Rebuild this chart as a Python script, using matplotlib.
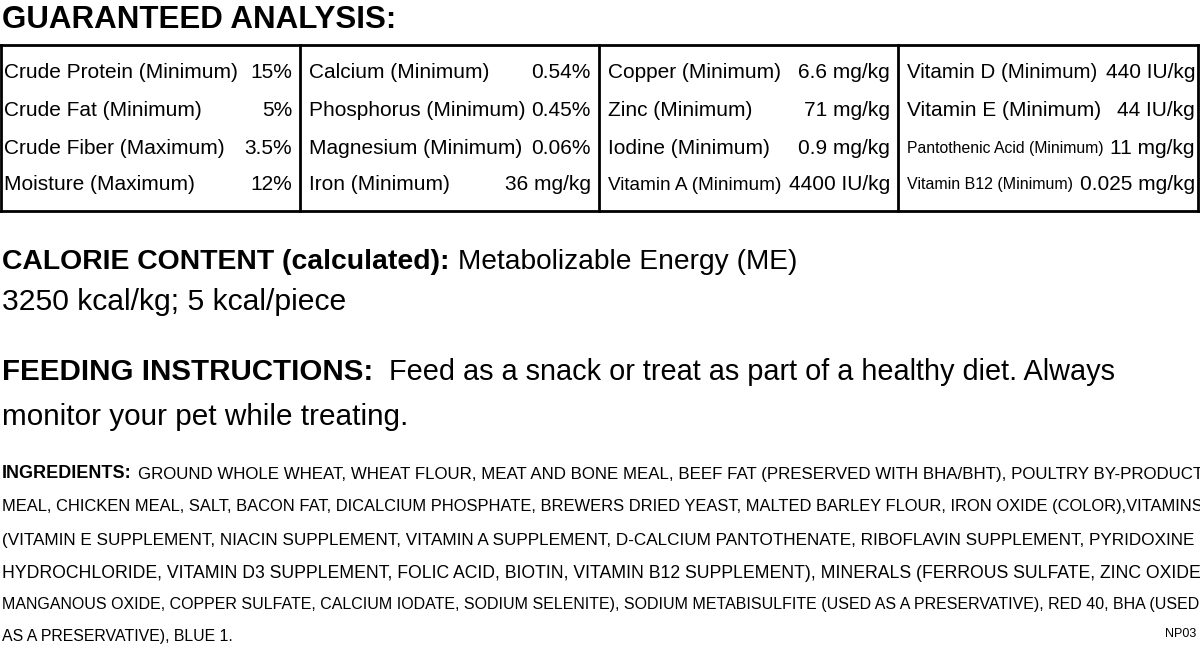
import matplotlib
matplotlib.use("Agg")
import matplotlib.pyplot as plt

plt.rcParams['font.family'] = ['Liberation Sans', 'DejaVu Sans']

# table data, one list per column
col1_names = ["Crude Protein (Minimum)", "Crude Fat (Minimum)", "Crude Fiber (Maximum)", "Moisture (Maximum)"]
col1_vals = ["15%", "5%", "3.5%", "12%"]
col2_names = ["Calcium (Minimum)", "Phosphorus (Minimum)", "Magnesium (Minimum)", "Iron (Minimum)"]
col2_vals = ["0.54%", "0.45%", "0.06%", "36 mg/kg"]
col3_names = ["Copper (Minimum)", "Zinc (Minimum)", "Iodine (Minimum)", "Vitamin A (Minimum)"]
col3_vals = ["6.6 mg/kg", "71 mg/kg", "0.9 mg/kg", "4400 IU/kg"]
col4_names = ["Vitamin D (Minimum)", "Vitamin E (Minimum)", "Pantothenic Acid (Minimum)", "Vitamin B12 (Minimum)"]
col4_vals = ["440 IU/kg", "44 IU/kg", "11 mg/kg", "0.025 mg/kg"]

ingredient_lines = [
    "GROUND WHOLE WHEAT, WHEAT FLOUR, MEAT AND BONE MEAL, BEEF FAT (PRESERVED WITH BHA/BHT), POULTRY BY-PRODUCT",
    "MEAL, CHICKEN MEAL, SALT, BACON FAT, DICALCIUM PHOSPHATE, BREWERS DRIED YEAST, MALTED BARLEY FLOUR, IRON OXIDE (COLOR),VITAMINS",
    "(VITAMIN E SUPPLEMENT, NIACIN SUPPLEMENT, VITAMIN A SUPPLEMENT, D-CALCIUM PANTOTHENATE, RIBOFLAVIN SUPPLEMENT, PYRIDOXINE",
    "HYDROCHLORIDE, VITAMIN D3 SUPPLEMENT, FOLIC ACID, BIOTIN, VITAMIN B12 SUPPLEMENT), MINERALS (FERROUS SULFATE, ZINC OXIDE,",
    "MANGANOUS OXIDE, COPPER SULFATE, CALCIUM IODATE, SODIUM SELENITE), SODIUM METABISULFITE (USED AS A PRESERVATIVE), RED 40, BHA (USED",
    "AS A PRESERVATIVE), BLUE 1.",
]

fig = plt.figure(figsize=(12, 6.46), dpi=100)
ax = fig.add_axes([0, 0, 1, 1])
ax.set_xlim(0, 1200)
ax.set_ylim(646, 0)
ax.axis("off")
fig.canvas.draw()
R = fig.canvas.get_renderer()


def width(t):
    return t.get_window_extent(R).width


def fit(t, w):
    # no condensed font installed: shrink the size so the text keeps the reference width
    bw = width(t)
    if bw > w:
        t.set_fontsize(t.get_fontsize() * w / bw)


t = ax.text(2, 20, "GUARANTEED ANALYSIS:", fontsize=27, fontweight="bold", va="center")
fit(t, 393)

# table frame
lw = 2
ax.plot([1, 1198], [45, 45], color="black", lw=lw)
ax.plot([1, 1198], [211, 211], color="black", lw=lw)
for x in [1, 300, 599, 898, 1198]:
    ax.plot([x, x], [45, 211], color="black", lw=lw)

cols = [(col1_names, col1_vals), (col2_names, col2_vals),
        (col3_names, col3_vals), (col4_names, col4_vals)]
starts = [4, 309, 608, 907]
ends = [292, 591, 890, 1195]
rows_y = [73, 110, 148, 185]
for (nm, vl), x0, x1 in zip(cols, starts, ends):
    for n, v, y in zip(nm, vl, rows_y):
        t2 = ax.text(x1, y, v, fontsize=15, va="center", ha="right")
        t1 = ax.text(x0, y, n, fontsize=15, va="center")
        fit(t1, x1 - width(t2) - x0 - 6)

t = ax.text(2, 262, "CALORIE CONTENT (calculated):", fontsize=23, fontweight="bold", va="center")
fit(t, 448)
t2 = ax.text(2 + width(t) + 8, 262, "Metabolizable Energy (ME)", fontsize=23, va="center")
fit(t2, 797 - (2 + width(t) + 8))
t = ax.text(2, 302, "3250 kcal/kg; 5 kcal/piece", fontsize=23, va="center")
fit(t, 345)

t = ax.text(2, 372, "FEEDING INSTRUCTIONS:", fontsize=23, fontweight="bold", va="center")
fit(t, 372)
x0 = 2 + width(t) + 16
t2 = ax.text(x0, 372, "Feed as a snack or treat as part of a healthy diet. Always",
             fontsize=23, va="center")
fit(t2, 1115 - x0)
t = ax.text(2, 417, "monitor your pet while treating.", fontsize=23, va="center")
fit(t, 408)

iy = [474, 507, 540, 573, 605, 636]
first = ax.text(2, iy[0], "INGREDIENTS:", fontsize=13, fontweight="bold", va="center")
fit(first, 136)
fw = width(first)
for i, (line, y) in enumerate(zip(ingredient_lines, iy)):
    x0 = 2 + fw + 6 if i == 0 else 2
    t = ax.text(x0, y, line, fontsize=13, va="center")
    fit(t, (1196 if i < len(ingredient_lines) - 1 else 232) - x0)
ax.text(1196, 634, "NP03", fontsize=9, ha="right", va="center")

fig.savefig("out.png", dpi=100)
